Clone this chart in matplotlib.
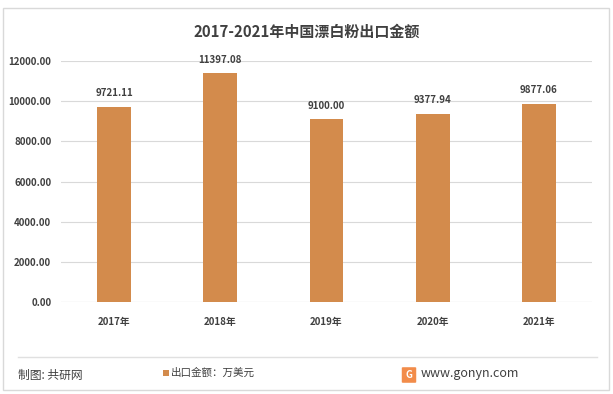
import matplotlib
matplotlib.use("Agg")
import matplotlib.pyplot as plt
from matplotlib.patches import Rectangle, FancyBboxPatch
from matplotlib.lines import Line2D

plt.rcParams['font.family'] = ['Noto Sans CJK SC', 'DejaVu Sans']

years = ["2017年", "2018年", "2019年", "2020年", "2021年"]
values = [9721.11, 11397.08, 9100.00, 9377.94, 9877.06]
labels = ["9721.11", "11397.08", "9100.00", "9377.94", "9877.06"]
yticks = [0, 2000, 4000, 6000, 8000, 10000, 12000]

title = "2017-2021年中国漂白粉出口金额"
legend_label = "出口金额：万美元"
source = "制图: 共研网"
site = "www.gonyn.com"

W, H = 613, 394
fig = plt.figure(figsize=(W / 100, H / 100), dpi=100)
fig.patch.set_facecolor("white")

# outer border
fig.add_artist(Rectangle((3 / W, 1 - 390 / H), 606 / W, 382 / H, transform=fig.transFigure,
                         fill=False, edgecolor="#d9d9d9", linewidth=1))

color = "#D38B4C"
text_color = "#404040"

ax = fig.add_axes([61 / W, 1 - 302 / H, 531 / W, 241 / H])
x = list(range(len(years)))
bars = ax.bar(x, values, width=0.32, color=color, zorder=3)
ax.set_xlim(-0.5, len(years) - 0.5)
ax.set_ylim(0, 12000)
ax.set_yticks(yticks)
ax.set_yticklabels([f"{v:.2f}" for v in yticks], fontsize=7, color=text_color, fontweight="bold")
ax.set_xticks(x)
ax.set_xticklabels(years, fontsize=7, color=text_color, fontweight="bold")
ax.tick_params(axis="both", length=0)
ax.tick_params(axis="y", pad=7)
ax.tick_params(axis="x", pad=11)
ax.grid(axis="y", color="#d9d9d9", linewidth=0.8, zorder=0)
for s in ax.spines.values():
    s.set_visible(False)
ax.axhline(0, color="#d9d9d9", linewidth=0.8, zorder=1)

for xi, v, lab in zip(x, values, labels):
    ax.annotate(lab, (xi, v), xytext=(0, 6), textcoords="offset points", ha="center", va="bottom",
                fontsize=7, color=text_color, fontweight="bold")

fig.text(0.5, 1 - 32 / H, title, ha="center", va="center", fontsize=10.8, fontweight="bold", color=text_color)

# separator line
fig.add_artist(Line2D([18 / W, 597 / W], [1 - 357 / H, 1 - 357 / H], transform=fig.transFigure,
                      color="#e0e0e0", linewidth=1))

fig.text(18 / W, 1 - 375 / H, source, ha="left", va="center", fontsize=8.5, color=text_color)
fig.add_artist(Rectangle((163 / W, 1 - 376 / H), 6 / W, 6 / H, transform=fig.transFigure,
                         facecolor=color, edgecolor="none"))
fig.text(171 / W, 1 - 373 / H, legend_label, ha="left", va="center", fontsize=7.6, color=text_color)

# logo
fig.add_artist(FancyBboxPatch((403 / W, 1 - 382 / H), 12 / W, 14 / H, transform=fig.transFigure,
                              boxstyle="round,pad=0.002", facecolor="#F28C4A", edgecolor="none"))
fig.text(409 / W, 1 - 375 / H, "G", ha="center", va="center", fontsize=7, color="white", fontweight="bold")
fig.text(421 / W, 1 - 374 / H, site, ha="left", va="center", fontsize=9, color=text_color)

fig.savefig("out.png", dpi=100, facecolor="white")
